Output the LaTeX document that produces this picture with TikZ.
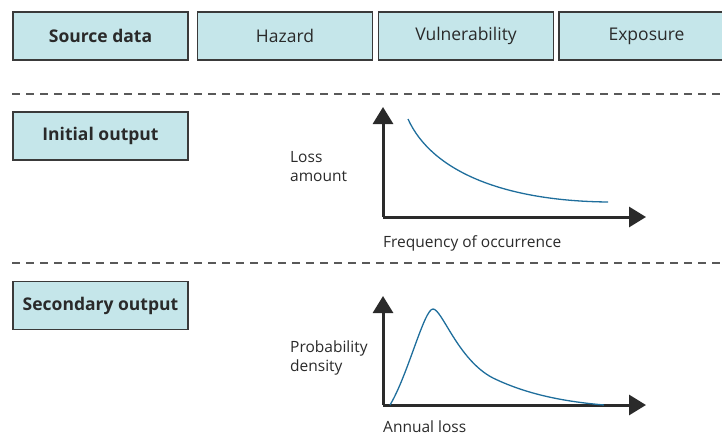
\documentclass[tikz,border=0pt]{standalone}
\usepackage{fontspec}
\setmainfont{Open Sans}
\usetikzlibrary{arrows.meta}

\definecolor{boxfill}{HTML}{C5E6EA}
\definecolor{boxline}{HTML}{3A3A3A}
\definecolor{curveblue}{HTML}{1F6E9C}
\definecolor{textgrey}{HTML}{2A2A2A}

\begin{document}
\begin{tikzpicture}[x=1pt, y=-1pt,
  box/.style = {draw=boxline, line width=1.2pt, fill=boxfill, minimum width=175pt, minimum height=48pt, inner sep=0pt, text=textgrey, font=\fontsize{17.5}{20}\selectfont},
  lbl/.style = {anchor=north west, inner sep=0pt, align=left, text=textgrey, font=\fontsize{15.5}{19}\selectfont},
  axis/.style = {line width=3pt, -{Triangle[width=20pt, length=17pt]}, textgrey},
  curve/.style = {curveblue, line width=1.3pt},
  sep/.style = {draw=black!65, line width=1.2pt, dash pattern=on 8pt off 6pt}]
\useasboundingbox (0,0) rectangle (722,439);

% top row
\node[box, font=\fontsize{17.5}{20}\selectfont\bfseries] (src) at (100.5,36) {Source data};
\node[box] (haz) at (285,36) {Hazard};
\node[box] (vul) at (466,36) {Vulnerability};
\node[box] (exp) at (646.5,36) {Exposure};

% separators
\coordinate (s1a) at (12,94);  \coordinate (s1b) at (722,94);
\coordinate (s2a) at (12,263); \coordinate (s2b) at (722,263);
\draw[sep] (s1a) -- (s1b);
\draw[sep] (s2a) -- (s2b);

% initial output
\node[box, font=\fontsize{17.5}{20}\selectfont\bfseries] (init) at (100.5,136) {Initial output};
\node[lbl] (lossamt) at (290,151) {Loss\\amount};
\coordinate (o1) at (383,217);
\coordinate (y1) at (383,107);
\coordinate (x1) at (646,217);
\draw[axis] (o1) -- (y1);
\draw[axis] (o1) -- (x1);
\node[lbl] (freq) at (383,235) {Frequency of occurrence};
\draw[curve] (408,119) .. controls (432,172) and (505,201) .. (608,202);

% secondary output
\node[box, font=\fontsize{17.5}{20}\selectfont\bfseries] (sec) at (100.5,305.5) {Secondary output};
\node[lbl] (probden) at (290,341) {Probability\\density};
\coordinate (o2) at (383,405);
\coordinate (y2) at (383,296);
\coordinate (x2) at (646,405);
\draw[axis] (o2) -- (y2);
\draw[axis] (o2) -- (x2);
\node[lbl] (annual) at (383,421) {Annual loss};
\draw[curve] (390,405) .. controls (408,375) and (424,309) .. (433,309)
  .. controls (442,309) and (458,360) .. (493,378)
  .. controls (530,396) and (570,402) .. (604,405);
\end{tikzpicture}
\end{document}
